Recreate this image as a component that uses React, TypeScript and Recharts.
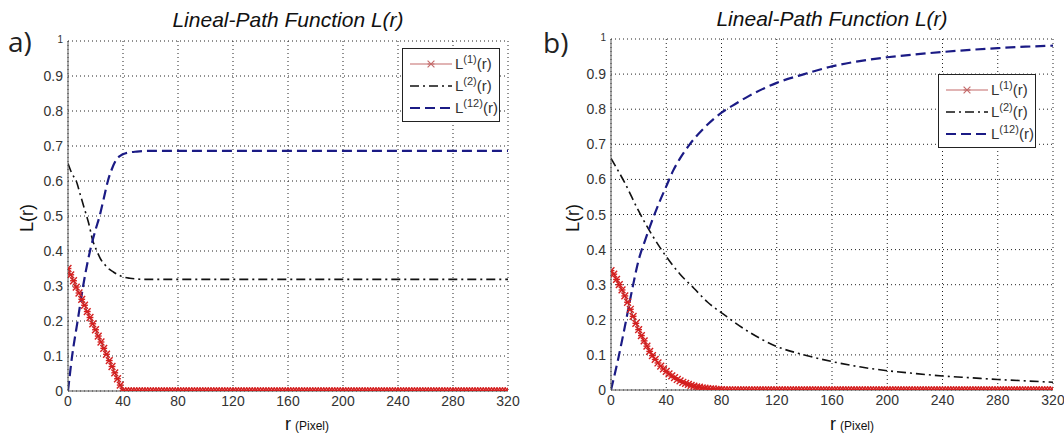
import React from 'react';
import { LineChart, Line, XAxis, YAxis, CartesianGrid, Legend } from 'recharts';

const X_TICKS = [0, 40, 80, 120, 160, 200, 240, 280, 320];
const Y_TICKS = [0, 0.1, 0.2, 0.3, 0.4, 0.5, 0.6, 0.7, 0.8, 0.9, 1];

// r (pixel) positions of the marker series, every 2 px
const R_FINE = [
  0, 2, 4, 6, 8, 10, 12, 14, 16, 18, 20, 22, 24, 26, 28, 30, 32, 34, 36, 38,
  40, 42, 44, 46, 48, 50, 52, 54, 56, 58, 60, 62, 64, 66, 68, 70, 72, 74, 76, 78,
  80, 82, 84, 86, 88, 90, 92, 94, 96, 98, 100, 102, 104, 106, 108, 110, 112, 114, 116, 118,
  120, 122, 124, 126, 128, 130, 132, 134, 136, 138, 140, 142, 144, 146, 148, 150, 152, 154, 156, 158,
  160, 162, 164, 166, 168, 170, 172, 174, 176, 178, 180, 182, 184, 186, 188, 190, 192, 194, 196, 198,
  200, 202, 204, 206, 208, 210, 212, 214, 216, 218, 220, 222, 224, 226, 228, 230, 232, 234, 236, 238,
  240, 242, 244, 246, 248, 250, 252, 254, 256, 258, 260, 262, 264, 266, 268, 270, 272, 274, 276, 278,
  280, 282, 284, 286, 288, 290, 292, 294, 296, 298, 300, 302, 304, 306, 308, 310, 312, 314, 316, 318,
  320,
];

// panel a)
const L1_A = [
  0.35, 0.332, 0.315, 0.297, 0.28, 0.262, 0.245, 0.227, 0.21, 0.192, 0.175, 0.157, 0.14, 0.122, 0.105, 0.087, 0.07, 0.052, 0.035, 0.017,
  0, 0, 0, 0, 0, 0, 0, 0, 0, 0, 0, 0, 0, 0, 0, 0, 0, 0, 0, 0,
  0, 0, 0, 0, 0, 0, 0, 0, 0, 0, 0, 0, 0, 0, 0, 0, 0, 0, 0, 0,
  0, 0, 0, 0, 0, 0, 0, 0, 0, 0, 0, 0, 0, 0, 0, 0, 0, 0, 0, 0,
  0, 0, 0, 0, 0, 0, 0, 0, 0, 0, 0, 0, 0, 0, 0, 0, 0, 0, 0, 0,
  0, 0, 0, 0, 0, 0, 0, 0, 0, 0, 0, 0, 0, 0, 0, 0, 0, 0, 0, 0,
  0, 0, 0, 0, 0, 0, 0, 0, 0, 0, 0, 0, 0, 0, 0, 0, 0, 0, 0, 0,
  0, 0, 0, 0, 0, 0, 0, 0, 0, 0, 0, 0, 0, 0, 0, 0, 0, 0, 0, 0,
  0,
];
const L2_A_R = [0, 3, 6, 9, 12, 15, 18, 21, 24, 27, 30, 33, 36, 40, 45, 50, 56, 80, 120, 160, 200, 240, 280, 320];
const L2_A = [0.65, 0.62, 0.6, 0.56, 0.52, 0.48, 0.43, 0.4, 0.375, 0.36, 0.348, 0.34, 0.333, 0.326, 0.322, 0.32, 0.319, 0.319, 0.319, 0.319, 0.319, 0.319, 0.319, 0.319];
const L12_A_R = [0, 3, 7, 11, 16, 20, 23, 26, 29, 32, 35, 38, 41, 45, 50, 60, 80, 120, 160, 200, 240, 280, 320];
const L12_A = [0, 0.1, 0.2, 0.3, 0.4, 0.46, 0.5, 0.55, 0.6, 0.635, 0.66, 0.672, 0.678, 0.682, 0.684, 0.686, 0.686, 0.686, 0.686, 0.686, 0.686, 0.686, 0.686];

// panel b)
const L1_B = [
  0.34, 0.33, 0.315, 0.3, 0.285, 0.268, 0.25, 0.23, 0.21, 0.19, 0.172, 0.155, 0.14, 0.125, 0.11, 0.098, 0.087, 0.077, 0.068, 0.06,
  0.053, 0.046, 0.04, 0.035, 0.03, 0.026, 0.022, 0.019, 0.016, 0.013, 0.011, 0.009, 0.008, 0.006, 0.005, 0.004, 0.003, 0.003, 0.002, 0.002,
  0.001, 0, 0, 0, 0, 0, 0, 0, 0, 0, 0, 0, 0, 0, 0, 0, 0, 0, 0, 0,
  0, 0, 0, 0, 0, 0, 0, 0, 0, 0, 0, 0, 0, 0, 0, 0, 0, 0, 0, 0,
  0, 0, 0, 0, 0, 0, 0, 0, 0, 0, 0, 0, 0, 0, 0, 0, 0, 0, 0, 0,
  0, 0, 0, 0, 0, 0, 0, 0, 0, 0, 0, 0, 0, 0, 0, 0, 0, 0, 0, 0,
  0, 0, 0, 0, 0, 0, 0, 0, 0, 0, 0, 0, 0, 0, 0, 0, 0, 0, 0, 0,
  0, 0, 0, 0, 0, 0, 0, 0, 0, 0, 0, 0, 0, 0, 0, 0, 0, 0, 0, 0,
  0,
];
const L2_B_R = [0, 10, 20, 30, 40, 50, 60, 70, 80, 100, 120, 140, 160, 180, 200, 220, 240, 260, 280, 300, 320];
const L2_B = [0.66, 0.59, 0.51, 0.44, 0.38, 0.33, 0.29, 0.25, 0.22, 0.165, 0.124, 0.1, 0.081, 0.066, 0.055, 0.047, 0.04, 0.035, 0.03, 0.026, 0.022];
const L12_B_R = [0, 5, 10, 15, 20, 25, 30, 35, 40, 45, 50, 57, 67, 80, 90, 100, 120, 140, 160, 180, 200, 220, 240, 260, 280, 300, 320];
const L12_B = [0, 0.085, 0.18, 0.28, 0.37, 0.43, 0.485, 0.535, 0.58, 0.625, 0.66, 0.7, 0.745, 0.79, 0.815, 0.838, 0.875, 0.9, 0.922, 0.937, 0.948, 0.956, 0.963, 0.969, 0.974, 0.978, 0.981];

const FONT = '"Liberation Sans", Arial, sans-serif';
const LEGEND_ORDER = ['L1', 'L2', 'L12'];

type Pt = { r: number; v: number };
const pts = (rs: number[], vs: number[]): Pt[] => rs.map((r, i) => ({ r, v: vs[i] }));

const SERIES: Record<string, { sup: string; color: string; legendColor: string; dash?: string; width: number }> = {
  L1: { sup: '(1)', color: '#a83232', legendColor: '#c46a6a', width: 1.2 },
  L2: { sup: '(2)', color: '#111111', legendColor: '#111111', dash: '9 4 2 4', width: 1.6 },
  L12: { sup: '(12)', color: '#1b1b85', legendColor: '#1b1b85', dash: '10 5', width: 2.2 },
};

// MATLAB-like '*' marker
const Star = (props: any) => {
  const { cx, cy, index, color } = props;
  if (cx == null || cy == null) return null;
  const s = 3.4;
  return (
    <g key={`st-${index}`} stroke={color || '#d41f1f'} strokeWidth={color ? 1.1 : 1.4}>
      <line x1={cx - s} y1={cy - s} x2={cx + s} y2={cy + s} />
      <line x1={cx - s} y1={cy + s} x2={cx + s} y2={cy - s} />
      <line x1={cx - s} y1={cy} x2={cx + s} y2={cy} />
    </g>
  );
};

const YTick = (props: any) => {
  const { x, y, payload } = props;
  const big = payload.value !== 1;
  return (
    <text x={x} y={y} dy={big ? 5 : 2} textAnchor="end" fontFamily={FONT} fontSize={big ? 14 : 10} fill="#333">
      {payload.value}
    </text>
  );
};

const LegendBox = ({ payload }: any) => {
  const items = [...(payload || [])].sort((a: any, b: any) => LEGEND_ORDER.indexOf(a.value) - LEGEND_ORDER.indexOf(b.value));
  return (
    <div
      style={{
        width: 98, height: 74, boxSizing: 'border-box', border: '1px solid #222', background: '#fff',
        fontFamily: FONT, color: '#333', paddingTop: 3,
      }}
    >
      {items.map((e: any) => {
        const s = SERIES[e.value];
        return (
          <div key={e.value} style={{ display: 'flex', alignItems: 'center', height: 22 }}>
            <svg width={52} height={22} style={{ flex: 'none' }}>
              <line x1={7} x2={49} y1={12} y2={12} stroke={s.legendColor} strokeWidth={s.width} strokeDasharray={s.dash} />
              {e.value === 'L1' && <Star cx={28} cy={12} index={0} color="#c46a6a" />}
            </svg>
            <span style={{ fontSize: 15, whiteSpace: 'nowrap' }}>
              L<span style={{ fontSize: 11, position: 'relative', top: -6 }}>{s.sup}</span>(r)
            </span>
          </div>
        );
      })}
    </div>
  );
};

type PanelProps = {
  x: number;
  l1: number[];
  l2: Pt[];
  l12: Pt[];
  margin: { top: number; right: number; bottom: number; left: number };
  legendTop: number;
  legendLeft: number;
};

const Panel = ({ x, l1, l2, l12, margin, legendTop, legendLeft }: PanelProps) => (
  <div style={{ position: 'absolute', left: x, top: 0 }}>
    <LineChart width={532} height={434} margin={margin}>
      <CartesianGrid stroke="#222" strokeDasharray="1 3" />
      <XAxis
        type="number"
        dataKey="r"
        domain={[0, 320]}
        ticks={X_TICKS}
        allowDataOverflow
        height={20}
        tickSize={0}
        tickMargin={5}
        axisLine={{ stroke: '#555' }}
        tick={{ fontFamily: FONT, fontSize: 14, fill: '#333' }}
      />
      <YAxis
        type="number"
        domain={[0, 1]}
        ticks={Y_TICKS}
        allowDataOverflow
        width={36}
        tickSize={0}
        tickMargin={5}
        axisLine={{ stroke: '#555' }}
        tick={<YTick />}
      />
      <Legend
        layout="vertical"
        align="center"
        verticalAlign="middle"
        wrapperStyle={{ top: legendTop, left: legendLeft, width: 98, height: 74 }}
        content={<LegendBox />}
      />
      <Line
        name="L1"
        data={pts(R_FINE, l1)}
        dataKey="v"
        stroke={SERIES.L1.color}
        strokeWidth={SERIES.L1.width}
        dot={<Star />}
        isAnimationActive={false}
      />
      <Line
        name="L2"
        data={l2}
        dataKey="v"
        type="monotone"
        stroke={SERIES.L2.color}
        strokeWidth={SERIES.L2.width}
        strokeDasharray={SERIES.L2.dash}
        dot={false}
        isAnimationActive={false}
      />
      <Line
        name="L12"
        data={l12}
        dataKey="v"
        type="monotone"
        stroke={SERIES.L12.color}
        strokeWidth={SERIES.L12.width}
        strokeDasharray={SERIES.L12.dash}
        dot={false}
        isAnimationActive={false}
      />
    </LineChart>
  </div>
);

export default function App() {
  return (
    <div style={{ position: 'absolute', left: 0, top: 0, width: 1064, height: 434, background: '#fff', overflow: 'hidden' }}>
      <Panel
        x={0}
        l1={L1_A}
        l2={pts(L2_A_R, L2_A)}
        l12={pts(L12_A_R, L12_A)}
        margin={{ top: 41, right: 24, bottom: 23, left: 32 }}
        legendTop={48}
        legendLeft={402}
      />
      <Panel
        x={532}
        l1={L1_B}
        l2={pts(L2_B_R, L2_B)}
        l12={pts(L12_B_R, L12_B)}
        margin={{ top: 39, right: 11, bottom: 24, left: 43 }}
        legendTop={74}
        legendLeft={406}
      />
      {/* titles, panel letters and axis labels */}
      <svg width={1064} height={434} style={{ position: 'absolute', left: 0, top: 0, pointerEvents: 'none' }}>
        <g fontFamily={FONT} fill="#111">
          <text x={288} y={27} fontSize={21} fontStyle="italic" textAnchor="middle">Lineal-Path Function L(r)</text>
          <text x={832} y={26} fontSize={21} fontStyle="italic" textAnchor="middle">Lineal-Path Function L(r)</text>
          <text x={33} y={218} fontSize={18} textAnchor="middle" transform="rotate(-90 33 218)">L(r)</text>
          <text x={579} y={218} fontSize={18} textAnchor="middle" transform="rotate(-90 579 218)">L(r)</text>
          <text x={285} y={430}>
            <tspan fontSize={18}>r</tspan>
            <tspan fontSize={12} dx={4}>(Pixel)</tspan>
          </text>
          <text x={830} y={430}>
            <tspan fontSize={18}>r</tspan>
            <tspan fontSize={12} dx={4}>(Pixel)</tspan>
          </text>
        </g>
        <g fontFamily='"Open Sans", sans-serif' fill="#222">
          <text x={8} y={52} fontSize={28}>a)</text>
          <text x={543} y={53} fontSize={28}>b)</text>
        </g>
      </svg>
    </div>
  );
}
